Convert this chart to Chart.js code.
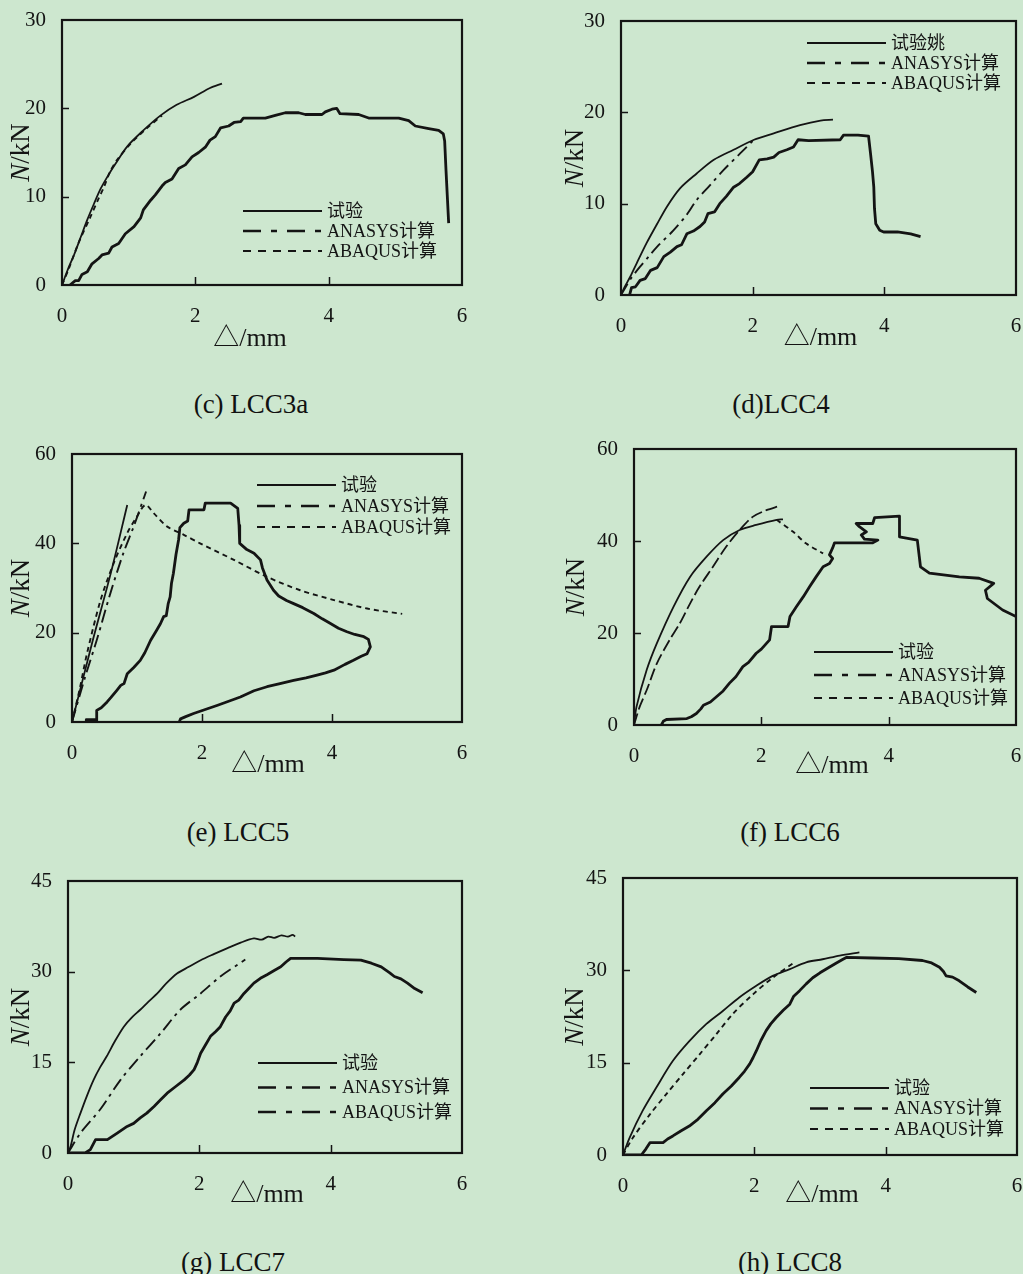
<!DOCTYPE html>
<html><head><meta charset="utf-8">
<script src="https://cdn.jsdelivr.net/npm/chart.js@4.4.0/dist/chart.umd.min.js"></script>
<style>
html,body{margin:0;padding:0;width:1023px;height:1274px;overflow:hidden;background:#cde7cf;}
canvas{position:absolute;}
.cap{position:absolute;font-size:27px;font-family:'Liberation Serif','Times New Roman',serif;color:#111;white-space:nowrap;transform:translate(-50%,-50%);line-height:1;}
</style></head><body>
<script>
// ---------- data ----------
const xTickVals = [0, 2, 4, 6];
const yTicks30 = [0, 10, 20, 30];
const yTicks60 = [0, 20, 40, 60];
const yTicks45 = [0, 15, 30, 45];
const legendStd = ['试验', 'ANASYS计算', 'ABAQUS计算'];
const legendD = ['试验姚', 'ANASYS计算', 'ABAQUS计算'];
const captions = ['(c) LCC3a', '(d)LCC4', '(e) LCC5', '(f) LCC6', '(g) LCC7', '(h) LCC8'];

// (c) LCC3a
const cTest = [[0.12,0],[0.2,0.5],[0.25,0.5],[0.3,1.2],[0.38,1.5],[0.45,2.4],[0.55,3.0],[0.6,3.4],[0.7,3.6],[0.75,4.3],[0.85,4.7],[0.95,5.8],[1.08,6.6],[1.18,7.6],[1.22,8.5],[1.33,9.6],[1.4,10.2],[1.5,11.2],[1.55,11.6],[1.65,12.0],[1.75,13.2],[1.85,13.6],[1.95,14.5],[2.05,15.0],[2.15,15.6],[2.22,16.4],[2.3,16.8],[2.38,17.8],[2.5,18.0],[2.58,18.4],[2.68,18.5],[2.72,18.9],[3.05,18.9],[3.2,19.2],[3.35,19.5],[3.55,19.5],[3.65,19.3],[3.9,19.3],[3.95,19.6],[4.05,19.9],[4.12,20.0],[4.17,19.4],[4.45,19.3],[4.6,18.9],[5.05,18.9],[5.2,18.6],[5.3,18.0],[5.5,17.7],[5.65,17.5],[5.72,17.1],[5.74,16.3],[5.76,13],[5.78,10],[5.8,7.0]];
const cAnsys = [[0,0],[0.03,0.6],[0.1,2.0],[0.18,3.4],[0.28,5.4],[0.38,7.4],[0.48,9.2],[0.58,10.9],[0.7,12.5],[0.8,13.7],[0.98,15.7],[1.22,17.5],[1.48,19.2],[1.72,20.4],[1.98,21.3],[2.22,22.3],[2.4,22.8]];
const cAbaqus = [[0,0],[0.1,1.8],[0.25,4.8],[0.42,7.6],[0.55,9.8],[0.63,11.1],[0.72,12.8],[0.83,14.2],[1.03,16.0],[1.25,17.6],[1.5,19.2]];

// (d) LCC4
const dTest = [[0.13,0],[0.16,0.8],[0.22,0.9],[0.29,1.6],[0.37,1.8],[0.45,2.7],[0.55,3.0],[0.65,4.2],[0.75,4.7],[0.85,5.3],[0.92,5.5],[1.0,6.7],[1.1,7.0],[1.2,7.5],[1.27,8.0],[1.32,8.9],[1.42,9.1],[1.5,10.0],[1.6,10.8],[1.71,11.8],[1.8,12.2],[1.91,12.9],[2.0,13.5],[2.1,14.8],[2.22,14.9],[2.32,15.1],[2.4,15.6],[2.52,15.9],[2.62,16.2],[2.69,17.0],[2.85,16.9],[3.33,17.0],[3.38,17.5],[3.6,17.5],[3.76,17.4],[3.79,15.5],[3.82,13.5],[3.84,11.8],[3.85,9.5],[3.87,7.8],[3.93,7.1],[3.99,6.9],[4.2,6.9],[4.4,6.7],[4.55,6.4]];
const dAnsys = [[0,0],[0.05,0.8],[0.14,2.0],[0.24,3.5],[0.39,5.7],[0.55,7.8],[0.7,9.7],[0.9,11.7],[1.15,13.3],[1.41,14.8],[1.71,15.9],[2.02,17.0],[2.32,17.7],[2.72,18.6],[3.03,19.1],[3.22,19.2]];
const dAbaqus = [[0,0],[0.04,0.5],[0.15,1.8],[0.29,3.1],[0.42,4.2],[0.55,5.3],[0.8,7.1],[1.0,8.8],[1.15,10.4],[1.35,12.0],[1.56,13.7],[1.81,15.5],[2.02,17.0]];

// (e) LCC5
const eTest = [[0.22,0],[0.22,0.5],[0.36,0.5],[0.36,0],[0.37,0],[0.38,2.6],[0.45,3.2],[0.54,4.5],[0.6,5.5],[0.69,7.1],[0.75,8.2],[0.8,8.6],[0.85,10.8],[0.95,12.2],[1.05,13.8],[1.12,15.5],[1.21,18.3],[1.3,20.5],[1.36,22.0],[1.41,23.6],[1.45,23.8],[1.48,26.5],[1.51,28.0],[1.53,31],[1.56,33.3],[1.6,37.5],[1.64,40.8],[1.66,43.5],[1.72,44.5],[1.78,45.0],[1.8,47.5],[2.03,47.5],[2.05,49.0],[2.44,49.0],[2.55,47.8],[2.57,44],[2.58,40],[2.69,38.6],[2.8,37.8],[2.9,36.3],[2.93,34.5],[3.0,31.8],[3.1,29.5],[3.18,28.2],[3.3,27.2],[3.41,26.5],[3.55,25.6],[3.72,24.3],[3.85,23.1],[3.97,22.1],[4.1,21.0],[4.23,20.2],[4.35,19.6],[4.49,19.1],[4.56,18.5],[4.59,16.8],[4.54,15.3],[4.45,14.7],[4.33,13.8],[4.2,12.9],[4.03,11.6],[3.9,11.0],[3.77,10.5],[3.6,9.9],[3.41,9.3],[3.2,8.6],[3.0,7.9],[2.8,7.0],[2.59,5.6],[2.4,4.6],[2.23,3.7],[2.05,2.8],[1.87,1.9],[1.75,1.2],[1.67,0.7],[1.65,0]];
const eLine = [[0,0],[0.32,18.3],[0.6,33.5],[0.85,48.6]];
const eAnsys = [[0,0],[0.2,10],[0.38,18.3],[0.59,28.8],[0.79,37.8],[0.95,43.8],[1.14,51.6]];
const eAbaqus = [[0,0],[0.12,7.5],[0.23,15.3],[0.44,27.3],[0.64,35.5],[0.85,42.3],[1.0,46.0],[1.13,48.6],[1.26,46.7],[1.46,43.8],[1.72,41.9],[1.97,40.0],[2.49,36.3],[3.0,32.5],[3.51,29.5],[4.03,27.3],[4.54,25.4],[5.08,24.2]];

// (f) LCC6
const fTest = [[0.43,0],[0.46,0.8],[0.51,1.2],[0.83,1.4],[0.9,1.8],[0.98,2.5],[1.05,3.5],[1.09,4.3],[1.2,5.0],[1.3,6.2],[1.4,7.4],[1.5,9.1],[1.6,10.5],[1.71,12.7],[1.8,13.6],[1.92,15.6],[2.0,16.5],[2.13,18.5],[2.16,21.4],[2.42,21.4],[2.45,23.6],[2.55,25.7],[2.66,27.9],[2.76,30.1],[2.86,32.2],[2.97,34.4],[3.07,35.1],[3.12,36.2],[3.07,37.0],[3.12,38.5],[3.15,39.6],[3.75,39.6],[3.83,40.2],[3.62,40.4],[3.57,41.3],[3.65,42.0],[3.54,43.1],[3.49,43.8],[3.75,43.8],[3.78,45.1],[4.17,45.4],[4.17,40.9],[4.45,40.2],[4.5,34.4],[4.64,33.0],[5.11,32.2],[5.42,31.9],[5.65,30.8],[5.52,29.3],[5.55,27.5],[5.79,25.0],[6.0,23.6]];
const fAnsys = [[0,0],[0.09,4.0],[0.2,7.6],[0.36,13.4],[0.56,18.5],[0.72,22.1],[0.88,26.4],[1.03,30.1],[1.24,34.4],[1.45,38.8],[1.66,42.4],[1.87,45.3],[2.08,46.7],[2.28,47.6]];
const fAbaqusRise = [[0,0],[0.04,4.0],[0.2,12.0],[0.36,17.8],[0.62,25.7],[0.88,32.2],[1.14,36.6],[1.4,40.2],[1.66,42.4],[1.92,43.5],[2.24,44.6],[2.34,44.7]];
const fAbaqusFall = [[2.24,44.6],[2.5,42.0],[2.7,39.5],[2.97,37.3]];

// (g) LCC7
const gTest = [[0,0],[0.26,0],[0.34,0.55],[0.42,2.2],[0.6,2.2],[0.75,3.3],[0.9,4.4],[1.0,4.9],[1.1,5.8],[1.2,6.6],[1.31,7.7],[1.41,8.8],[1.51,9.9],[1.64,11.0],[1.77,12.1],[1.85,12.9],[1.92,13.8],[1.97,15.0],[2.02,16.5],[2.1,18.0],[2.17,19.3],[2.25,20.1],[2.32,20.9],[2.4,22.5],[2.47,23.5],[2.53,24.8],[2.6,25.3],[2.68,26.4],[2.76,27.3],[2.83,28.1],[2.93,28.9],[3.03,29.5],[3.14,30.2],[3.24,30.8],[3.32,31.6],[3.39,32.2],[3.8,32.2],[4.2,32.0],[4.46,31.9],[4.62,31.4],[4.77,30.8],[4.9,29.8],[4.97,29.2],[5.07,28.8],[5.17,28.1],[5.28,27.2],[5.4,26.5]];
const gAnsys = [[0,0],[0.04,1.1],[0.1,3.8],[0.19,6.6],[0.29,9.5],[0.39,12.1],[0.49,14.2],[0.59,16.0],[0.72,18.6],[0.85,20.9],[0.97,22.4],[1.1,23.7],[1.23,25.1],[1.36,26.4],[1.5,28.1],[1.66,29.7],[1.84,30.8],[2.02,31.9],[2.22,32.9],[2.43,33.9],[2.63,34.8],[2.83,35.5],[2.95,35.3],[3.05,35.8],[3.14,35.6],[3.25,36.0],[3.35,35.8],[3.42,36.1],[3.46,35.8]];
const gAbaqus = [[0,0],[0.19,3.3],[0.49,7.2],[0.8,12.1],[1.1,16.0],[1.41,19.8],[1.71,23.7],[2.02,26.4],[2.32,29.2],[2.7,32.0]];

// (h) LCC8
const hTest = [[0,0],[0.28,0],[0.35,1.0],[0.41,2.0],[0.61,2.0],[0.68,2.6],[0.76,3.1],[0.88,3.9],[1.01,4.7],[1.14,5.8],[1.27,7.2],[1.4,8.5],[1.52,9.9],[1.65,11.2],[1.77,12.6],[1.85,13.6],[1.93,14.8],[1.98,15.8],[2.03,16.9],[2.1,18.6],[2.18,20.2],[2.25,21.3],[2.33,22.3],[2.44,23.5],[2.54,24.5],[2.6,25.8],[2.69,26.7],[2.79,27.8],[2.89,28.8],[3.0,29.6],[3.14,30.5],[3.25,31.2],[3.35,31.8],[3.4,32.1],[3.8,32.0],[4.2,31.9],[4.56,31.6],[4.7,31.2],[4.82,30.5],[4.88,29.8],[4.92,29.1],[5.02,28.9],[5.12,28.3],[5.25,27.3],[5.38,26.4]];
const hAnsys = [[0,0],[0.1,2.8],[0.3,7.2],[0.51,11.0],[0.76,15.3],[1.01,18.5],[1.27,21.3],[1.52,23.4],[1.77,25.6],[2.03,27.5],[2.28,29.1],[2.54,30.2],[2.79,31.3],[3.04,31.8],[3.3,32.4],[3.6,32.9]];
const hAbaqus = [[0,0],[0.15,2.8],[0.41,6.6],[0.66,9.9],[0.91,13.1],[1.17,16.4],[1.42,19.6],[1.67,22.9],[1.98,26.1],[2.28,28.8],[2.61,31.3]];

// ---------- styles / layout ----------
const INK = '#141414';
const ST = {
  test:    {w: 2.8, dash: [], t: 0},
  solid:   {w: 1.8, dash: [], t: 0.3},
  dashdot: {w: 1.9, dash: [13, 5, 3, 5], t: 0.3},
  dash:    {w: 1.9, dash: [5, 4], t: 0.3},
  longdash:{w: 1.8, dash: [12, 4], t: 0.3}
};
const LEG = {
  solid:   {w: 2.2, dash: []},
  dashdot: {w: 2.6, dash: [18, 10, 6, 10]},
  dash:    {w: 2.2, dash: [8, 7]}
};
const SERIF = "'Liberation Serif','Times New Roman','Noto Sans CJK SC',serif";

const panels = [
  {frame:[62,20,462,285], yTicks:yTicks30,
   series:[[cAnsys,'solid'],[cAbaqus,'dash'],[cTest,'test']],
   legend:{x:243,y:211,dy:20,labels:legendStd,styles:['solid','dashdot','dash']},
   cap:{i:0,x:251,y:404}, yT:40, xT:{dx:-12,dy:54}},
  {frame:[621,21,1016,295], yTicks:yTicks30,
   series:[[dAnsys,'solid'],[dAbaqus,'dashdot'],[dTest,'test']],
   legend:{x:807,y:43,dy:20,labels:legendD,styles:['solid','dashdot','dash']},
   cap:{i:1,x:781,y:404}, yT:45, xT:{dx:2,dy:43}},
  {frame:[72,454,462,722], yTicks:yTicks60,
   series:[[eLine,'solid'],[eAnsys,'dashdot'],[eAbaqus,'dash'],[eTest,'test']],
   legend:{x:257,y:485,dy:21,labels:legendStd,styles:['solid','dashdot','dash']},
   cap:{i:2,x:238,y:832}, yT:50, xT:{dx:1,dy:43}},
  {frame:[634,449,1016,725], yTicks:yTicks60,
   series:[[fAnsys,'longdash'],[fAbaqusRise,'solid'],[fAbaqusFall,'dash'],[fTest,'test']],
   legend:{x:814,y:652,dy:23,labels:legendStd,styles:['solid','dashdot','dash']},
   cap:{i:3,x:790,y:832}, yT:57, xT:{dx:7,dy:41}},
  {frame:[68,881,462,1153], yTicks:yTicks45,
   series:[[gAnsys,'solid'],[gAbaqus,'dashdot'],[gTest,'test']],
   legend:{x:258,y:1063,dy:24.5,labels:legendStd,styles:['solid','dashdot','dashdot']},
   cap:{i:4,x:233,y:1262}, yT:46, xT:{dx:2,dy:42}},
  {frame:[623,878,1017,1155], yTicks:yTicks45,
   series:[[hAnsys,'solid'],[hAbaqus,'dash'],[hTest,'test']],
   legend:{x:810,y:1088,dy:20.5,labels:legendStd,styles:['solid','dashdot','dash']},
   cap:{i:5,x:790,y:1262}, yT:47, xT:{dx:2,dy:40}}
];

const PADL = 70, PADT = 40, PADR = 40, PADB = 75;

const decor = {
  id: 'decor',
  afterDraw(chart, args, opts) {
    const p = opts.panel;
    const ctx = chart.ctx, a = chart.chartArea;
    const xs = chart.scales.x, ys = chart.scales.y;
    ctx.save();
    ctx.strokeStyle = INK; ctx.fillStyle = INK;
    // inward ticks
    ctx.lineWidth = 1.5;
    ctx.beginPath();
    p.yTicks.slice(1, -1).forEach(v => {
      const y = Math.round(ys.getPixelForValue(v)) + 0.5;
      ctx.moveTo(a.left, y); ctx.lineTo(a.left + 7, y);
    });
    xTickVals.slice(1, -1).forEach(v => {
      const x = Math.round(xs.getPixelForValue(v)) + 0.5;
      ctx.moveTo(x, a.bottom); ctx.lineTo(x, a.bottom - 8);
    });
    ctx.stroke();
    // frame
    ctx.lineWidth = 2.2;
    ctx.strokeRect(a.left, a.top, a.right - a.left, a.bottom - a.top);
    // legend
    const L = p.legend, ox = chart.canvas.offsetLeft, oy = chart.canvas.offsetTop;
    L.labels.forEach((t, i) => {
      const y = L.y - oy + i * L.dy;
      const s = LEG[L.styles[i]];
      ctx.lineWidth = s.w; ctx.setLineDash(s.dash);
      ctx.beginPath(); ctx.moveTo(L.x - ox, y); ctx.lineTo(L.x - ox + 79, y); ctx.stroke();
      ctx.setLineDash([]);
      ctx.font = '18px ' + SERIF;
      ctx.textBaseline = 'middle'; ctx.textAlign = 'left';
      ctx.fillText(t, L.x - ox + 84, y + 1);
    });
    // y title: italic N + /kN
    ctx.save();
    ctx.translate(a.left - p.yT, (a.top + a.bottom) / 2);
    ctx.rotate(-Math.PI / 2);
    ctx.textBaseline = 'middle'; ctx.textAlign = 'left';
    const fI = 'italic 27px ' + SERIF, fR = '27px ' + SERIF;
    ctx.font = fI; const w1 = ctx.measureText('N').width;
    ctx.font = fR; const w2 = ctx.measureText('/kN').width;
    let x0 = -(w1 + w2) / 2;
    ctx.font = fI; ctx.fillText('N', x0, 0);
    ctx.font = fR; ctx.fillText('/kN', x0 + w1, 0);
    ctx.restore();
    // x title
    ctx.font = '26px ' + SERIF;
    ctx.textAlign = 'center'; ctx.textBaseline = 'middle';
    ctx.fillText('△/mm', (a.left + a.right) / 2 + p.xT.dx, a.bottom + p.xT.dy);
    ctx.restore();
  }
};

panels.forEach(p => {
  const [L, T, R, B] = p.frame;
  const cv = document.createElement('canvas');
  const W = (R - L) + PADL + PADR, H = (B - T) + PADT + PADB;
  cv.width = W; cv.height = H;
  cv.style.left = (L - PADL) + 'px'; cv.style.top = (T - PADT) + 'px';
  cv.style.width = W + 'px'; cv.style.height = H + 'px';
  document.body.appendChild(cv);

  const cap = document.createElement('div');
  cap.className = 'cap';
  cap.textContent = captions[p.cap.i];
  cap.style.left = p.cap.x + 'px'; cap.style.top = p.cap.y + 'px';
  document.body.appendChild(cap);

  const datasets = p.series.map(([arr, st]) => {
    const s = ST[st];
    return {
      data: arr.map(([x, y]) => ({x, y})),
      showLine: true, pointRadius: 0, pointHoverRadius: 0, fill: false,
      borderColor: INK, borderWidth: s.w, borderDash: s.dash,
      tension: s.t, borderJoinStyle: 'round', borderCapStyle: 'butt'
    };
  });

  new Chart(cv, {
    type: 'scatter',
    data: {datasets},
    options: {
      responsive: false, animation: false, devicePixelRatio: 1,
      layout: {padding: {left: 0, top: PADT, right: PADR, bottom: 0}},
      plugins: {legend: {display: false}, tooltip: {enabled: false}, decor: {panel: p}},
      scales: {
        x: {
          type: 'linear', min: 0, max: 6,
          grid: {display: false, drawTicks: false}, border: {display: false},
          afterBuildTicks: s => { s.ticks = xTickVals.map(v => ({value: v})); },
          afterFit: s => { s.height = PADB; },
          ticks: {padding: 19, color: INK, font: {family: SERIF, size: 21}, maxRotation: 0, autoSkip: false}
        },
        y: {
          type: 'linear', min: 0, max: p.yTicks[p.yTicks.length - 1],
          grid: {display: false, drawTicks: false}, border: {display: false},
          afterBuildTicks: s => { s.ticks = p.yTicks.map(v => ({value: v})); },
          afterFit: s => { s.width = PADL; },
          ticks: {padding: 16, color: INK, font: {family: SERIF, size: 21}, autoSkip: false}
        }
      }
    },
    plugins: [decor]
  });
});
</script>
</body></html>
